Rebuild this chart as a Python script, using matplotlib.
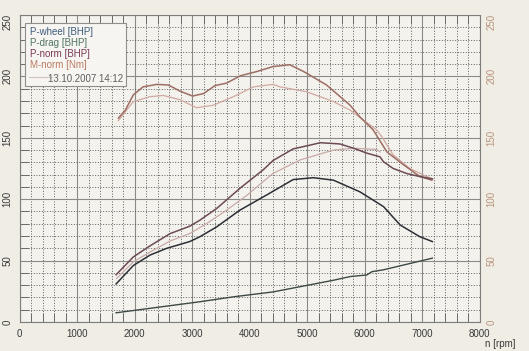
import numpy as np
import matplotlib
matplotlib.use("Agg")
from matplotlib import pyplot as plt
from matplotlib.ticker import MultipleLocator
from matplotlib.transforms import ScaledTranslation

plt.rcParams["font.family"] = ["Liberation Sans", "DejaVu Sans"]

# P-wheel [BHP]
rpm_wheel = [1680, 1980, 2270, 2560, 2960, 3140, 3430, 3830, 4300, 4760, 5110, 5460, 5920, 6330, 6620, 6960, 7180]
p_wheel = [31, 46, 54.5, 60, 65.5, 69.5, 77.5, 91, 103.5, 116, 117.5, 115.5, 106, 94, 79, 69.5, 65.5]

# P-drag [BHP]
rpm_drag = [1680, 3140, 3720, 4410, 5460, 5750, 6040, 6130, 6330, 7180]
p_drag = [7.5, 16.5, 20.5, 24.5, 34, 37, 38.3, 41, 42.5, 52]

# P-norm [BHP]
rpm_norm = [1680, 1980, 2270, 2620, 2960, 3140, 3430, 3850, 4240, 4410, 4760, 5050, 5230, 5570,
            5810, 6040, 6270, 6330, 6500, 6730, 6910, 7180]
p_norm = [38.5, 53, 62, 72, 78, 83, 92.5, 109.5, 124, 131.5, 141, 144, 146, 145,
          141.5, 137.5, 134.5, 130.5, 125, 121, 119, 116.5]

# M-norm [Nm]
rpm_torque = [1720, 1840, 1980, 2150, 2390, 2590, 2790, 3010, 3200, 3400, 3600, 3840, 4130, 4410,
              4700, 4940, 5340, 5750, 5920, 6150, 6390, 6680, 6960, 7170]
m_norm = [166, 172.5, 185, 191.5, 193.5, 193, 188, 184, 186, 192.5, 194.5, 200.5, 204, 208,
          209.5, 204, 193, 176.5, 167, 156.5, 138.5, 128, 118.5, 115.5]

# comparison run 13.10.2007 14:12
rpm_old_p = [1690, 1980, 2270, 2620, 2960, 3250, 3600, 3950, 4410, 4880, 5460, 5810, 6210, 6270]
p_norm_old = [35.5, 49, 57, 66, 72, 80, 91, 103, 121, 132, 140, 141.5, 140.5, 138.5]
rpm_old_m = [1720, 1980, 2270, 2500, 2790, 3080, 3370, 3720, 4070, 4410, 4530, 4990, 5460, 5750,
             5980, 6210, 6300, 6500, 6790, 7080, 7190]
m_norm_old = [164, 179.5, 183.5, 184.5, 181, 174.5, 176.5, 183.5, 191.5, 193.5, 191.5, 187.5, 179.5, 172.5,
              164.5, 156.5, 151, 136, 125, 118.5, 116.5]

x_ticks = np.arange(0, 8001, 1000)
y_ticks = np.arange(0, 251, 50)

W, H = 529, 351
paper = "#f0ede5"

fig = plt.figure(figsize=(W / 100, H / 100), dpi=100, facecolor=paper)
ax = fig.add_axes([19.5 / W, 29 / H, 460 / W, 307 / H], facecolor="#f4f2ec")
ax.set_xlim(0, 8000)
ax.set_ylim(0, 250)

ax.xaxis.set_major_locator(MultipleLocator(1000))
ax.xaxis.set_minor_locator(MultipleLocator(200))
ax.yaxis.set_major_locator(MultipleLocator(50))
ax.yaxis.set_minor_locator(MultipleLocator(10))
ax.grid(which="major", color="#8a8a88", lw=0.8, ls="-")
ax.grid(which="minor", color="#4a4c50", lw=0.6, ls=(0, (1.2, 2.0)))
ax.set_axisbelow(True)
ax.tick_params(which="major", length=0, labelsize=7, colors="#3a3a3a")
ax.tick_params(which="minor", direction="in", length=6.5, width=0.7, color="#6a6a6a",
               top=True, bottom=True, left=True, right=True)
ax.tick_params(axis="x", pad=5)
ax.tick_params(axis="y", pad=5)
for s in ax.spines.values():
    s.set_color("#7d7d7b")
    s.set_linewidth(0.8)

ax.set_xticks(x_ticks)
ax.set_yticks(y_ticks)

ax2 = ax.twinx()
ax2.set_ylim(0, 250)
ax2.set_yticks(y_ticks)
ax2.tick_params(length=0, labelsize=7, labelcolor="#b8957f", pad=5)
for s in ax2.spines.values():
    s.set_visible(False)

# rotated axis labels, the top one sits a bit lower on the sheet
shift = ScaledTranslation(0, -5 / 72, fig.dpi_scale_trans)
for a in (ax, ax2):
    labels = a.get_yticklabels()
    for t in labels:
        t.set_rotation(90)
        t.set_va("center")
    labels[-1].set_transform(labels[-1].get_transform() + shift)

# curves
ax.plot(rpm_old_m, m_norm_old, color="#cfa9a2", lw=0.9)
ax.plot(rpm_old_p, p_norm_old, color="#c9aaa8", lw=0.9)
ax.plot(rpm_torque, m_norm, color="#9c6e64", lw=1.1)
ax.plot(rpm_norm, p_norm, color="#6c4a55", lw=1.1)
ax.plot(rpm_wheel, p_wheel, color="#2c3036", lw=1.1)
ax.plot(rpm_drag, p_drag, color="#3d4a46", lw=1.0)

# legend box
box = plt.Rectangle((25 / W, 1 - 86 / H), 101 / W, 63 / H, transform=fig.transFigure,
                    facecolor="#f6f5f1", edgecolor="#8e8e8c", lw=0.8, zorder=5)
fig.patches.append(box)
legend_rows = [
    ("P-wheel [BHP]", "#3f5d7c", 32),
    ("P-drag [BHP]", "#4f7560", 43),
    ("P-norm [BHP]", "#7c3a58", 54),
    ("M-norm [Nm]", "#bb7b62", 65),
]
for label, col, yy in legend_rows:
    fig.text(30 / W, 1 - yy / H, label, color=col, fontsize=7, va="center", ha="left", zorder=6)
fig.lines.append(plt.Line2D([29 / W, 52 / W], [1 - 77 / H, 1 - 77 / H], transform=fig.transFigure,
                            color="#d2c2be", lw=0.8, zorder=6))
fig.text(123 / W, 1 - 79 / H, "13.10.2007 14:12", color="#5e5e5e", fontsize=7,
         va="center", ha="right", zorder=6)

fig.text(500 / W, 1 - 344 / H, "n [rpm]", color="#3a3a3a", fontsize=7, ha="center", va="center")

fig.savefig("out.png", dpi=100, facecolor=paper)
